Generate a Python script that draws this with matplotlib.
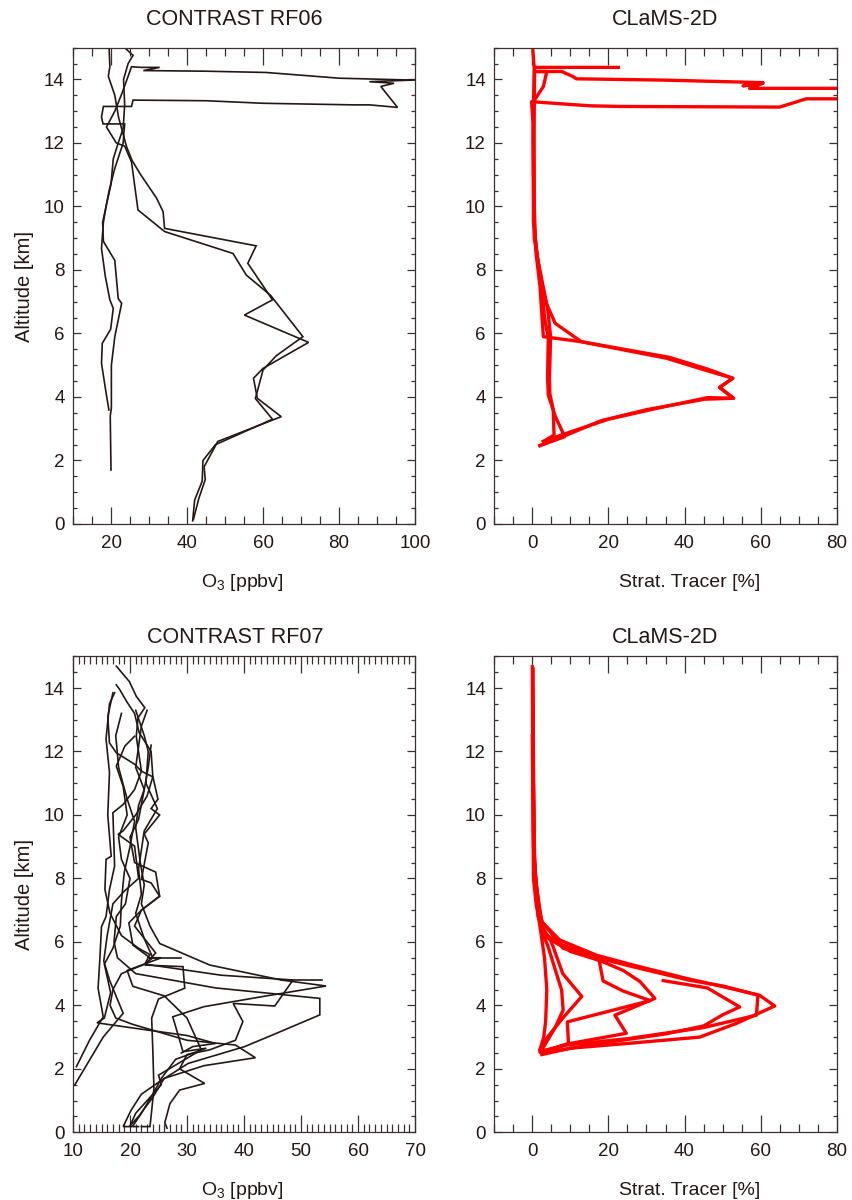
import matplotlib
matplotlib.use("Agg")
import matplotlib.pyplot as plt
from matplotlib.ticker import MultipleLocator

plt.rcParams['font.family'] = ['Liberation Sans', 'DejaVu Sans']
plt.rcParams['mathtext.fontset'] = 'custom'
plt.rcParams['mathtext.rm'] = 'Liberation Sans'
plt.rcParams['mathtext.it'] = 'Liberation Sans:italic'

# ---------------- DATA ----------------
# CONTRAST RF06 ozone profiles (O3 ppbv, altitude km)
rf06_a_o3 = [41.5, 42.0, 44.0, 44.2, 47.5, 62.5, 58.0, 60.0, 63.5, 70.5, 62.0, 55.6, 52.1, 34.1, 27.1, 25.4, 23.6, 21.4, 18.8, 21.0, 23.0, 25.4, 28.0, 32.8, 28.5, 45.0, 60.8, 80.0, 99.3, 101.0]
rf06_a_alt = [0.10, 0.75, 1.35, 2.00, 2.50, 3.30, 3.95, 4.85, 5.30, 5.90, 7.20, 7.84, 8.52, 9.21, 9.89, 11.40, 11.90, 12.00, 12.50, 13.00, 13.60, 14.40, 14.38, 14.38, 14.28, 14.26, 14.22, 14.04, 13.98, 13.98]
rf06_b_o3 = [99.3, 88.0, 94.5, 91.0, 95.4, 88.0, 83.6, 60.0, 45.0, 25.8, 25.4, 18.0, 17.5, 17.9, 23.6, 23.2, 21.0, 19.5, 18.7, 18.0, 17.5, 18.5, 19.7, 20.6, 19.9, 17.7, 17.5, 18.8, 19.45]
rf06_b_alt = [13.98, 13.93, 13.88, 13.78, 13.12, 13.20, 13.20, 13.25, 13.33, 13.35, 13.15, 13.15, 12.82, 12.60, 12.60, 12.00, 11.20, 10.50, 10.00, 9.50, 8.68, 7.80, 7.06, 6.79, 6.13, 5.69, 5.06, 4.06, 3.59]
rf06_c_o3 = [20.0, 19.8, 20.1, 20.1, 21.0, 22.8, 21.9, 21.0, 18.0, 17.8, 18.7, 20.0, 20.6, 21.9, 23.2, 23.6, 23.3, 24.5, 25.8, 23.6]
rf06_c_alt = [1.70, 3.40, 3.65, 5.00, 5.90, 6.95, 7.10, 8.30, 8.90, 9.50, 10.00, 10.70, 11.50, 12.00, 12.46, 13.20, 14.00, 14.50, 14.76, 15.00]
rf06_d_o3 = [19.5, 19.7, 19.3, 21.0, 22.0, 24.1, 25.5, 27.6, 32.0, 33.7, 34.1, 58.2, 56.0, 62.5, 55.1, 72.0, 60.0, 57.5, 58.5, 64.8, 48.1, 44.5, 44.8, 43.1, 41.7]
rf06_d_alt = [15.00, 14.40, 14.10, 13.50, 12.80, 11.88, 11.46, 11.04, 10.26, 9.84, 9.31, 8.76, 8.21, 7.06, 6.58, 5.72, 4.90, 4.59, 3.96, 3.38, 2.60, 1.80, 1.40, 0.80, 0.15]

# CLaMS-2D stratospheric tracer for RF06 (%, km)
cl06_a_tr = [2.0, 10.0, 18.0, 30.0, 45.3, 52.9, 49.2, 52.7, 45.3, 35.3, 12.9, 6.0, 3.5, 2.5, 1.5, 0.8, 0.5, 0.4, 0.3, 2.9, 3.8, 1.1, 7.7, 10.7, 11.6, 34.4, 60.6, 55.4, 60.6, 57.1, 82.0]
cl06_a_alt = [2.47, 2.85, 3.25, 3.60, 3.93, 3.96, 4.30, 4.59, 4.85, 5.22, 5.74, 6.32, 7.00, 7.60, 8.20, 9.00, 10.00, 12.50, 13.30, 13.78, 14.25, 14.25, 14.25, 14.09, 14.02, 13.98, 13.90, 13.80, 13.88, 13.72, 13.72]
cl06_b_tr = [2.9, 10.0, 20.0, 33.0, 46.0, 52.9, 49.2, 52.7, 46.0, 36.0, 12.9, 2.9, 2.5, 2.0, 1.0, 0.5, 0.3, 0.2, -0.2, 15.1, 23.0, 65.0, 72.0, 82.0]
cl06_b_alt = [2.60, 2.90, 3.30, 3.65, 3.98, 3.96, 4.30, 4.59, 4.88, 5.25, 5.74, 5.90, 6.60, 7.50, 8.50, 9.50, 11.00, 12.60, 13.30, 13.17, 13.15, 13.13, 13.39, 13.39]
cl06_c_tr = [2.0, 8.5, 6.0, 4.2, 4.0, 4.2, 3.2, 2.5, 1.2, 0.3, 0.2, 0.3, 0.5, 0.1]
cl06_c_alt = [2.47, 2.75, 3.40, 4.06, 4.60, 5.85, 6.50, 7.50, 8.50, 9.50, 12.00, 13.15, 14.35, 15.00]
cl06_d_tr = [2.9, 5.7, 5.5, 4.6, 4.5, 4.8, 4.0, 2.8, 1.5, 0.5, 0.4, 0.6, 22.6]
cl06_d_alt = [2.60, 2.80, 3.60, 4.10, 4.60, 5.90, 6.80, 7.50, 8.30, 9.00, 12.00, 14.38, 14.38]

# CONTRAST RF07 ozone profiles (O3 ppbv, altitude km)
rf07_1_o3 = [17.6, 19.9, 21.1, 22.6, 21.4, 21.1, 22.0, 20.8, 18.8, 17.0, 17.3, 16.4, 15.8, 15.0, 14.7, 14.4, 15.3, 12.9, 10.6]
rf07_1_alt = [14.69, 14.20, 13.74, 13.38, 13.06, 12.48, 11.38, 10.80, 10.33, 10.07, 8.39, 7.65, 6.80, 6.48, 5.43, 4.54, 3.64, 2.90, 2.07]
rf07_2_o3 = [17.6, 18.2, 19.5, 20.8, 21.6, 23.7, 24.0, 24.9, 23.7, 25.2, 22.5, 23.2, 22.0, 23.7, 25.2, 22.0, 20.8, 24.5, 22.6, 29.3, 29.6, 25.0, 23.8, 24.0, 24.2, 23.7, 23.5, 22.0]
rf07_2_alt = [14.10, 13.95, 13.55, 13.20, 12.60, 12.00, 11.22, 10.50, 10.20, 10.00, 9.40, 9.12, 7.97, 7.86, 7.44, 7.00, 6.50, 5.65, 5.27, 5.22, 4.54, 4.20, 3.60, 2.60, 1.39, 0.50, 0.18, 0.18]
rf07_3_o3 = [17.0, 16.1, 16.4, 17.6, 20.8, 22.0, 24.0, 23.0, 21.0, 18.8, 17.9, 20.8, 21.5, 19.0, 17.0, 16.0, 15.4, 16.4, 18.8, 15.3, 10.3]
rf07_3_alt = [13.85, 13.10, 12.27, 11.96, 11.60, 11.38, 11.20, 10.60, 10.00, 9.50, 9.39, 9.02, 8.00, 7.60, 7.20, 6.20, 5.40, 4.80, 3.75, 3.00, 1.49]
rf07_4_o3 = [17.3, 16.4, 15.8, 16.4, 16.1, 16.7, 15.8, 15.6, 16.5, 18.5, 21.5, 23.5, 22.6, 18.5, 17.0, 16.5, 17.5, 20.5, 30.0, 38.5, 42.0, 33.0, 26.0, 24.0, 21.5, 20.0]
rf07_4_alt = [13.85, 13.50, 12.40, 11.33, 10.00, 8.70, 8.60, 7.65, 6.90, 6.20, 5.80, 5.60, 5.30, 5.00, 4.50, 4.00, 3.60, 3.40, 2.90, 2.75, 2.35, 2.10, 1.70, 1.10, 0.50, 0.20]
rf07_5_o3 = [20.8, 19.1, 17.6, 18.8, 19.5, 18.0, 18.5, 20.0, 19.2, 17.6, 17.2, 17.8, 21.0, 35.0, 53.3, 53.3, 45.7, 40.1, 30.2, 25.2, 22.0, 20.2, 18.8, 21.5]
rf07_5_alt = [12.48, 12.17, 11.54, 10.90, 10.00, 9.30, 8.60, 8.00, 7.20, 6.80, 6.00, 5.50, 5.00, 4.55, 4.22, 3.70, 3.12, 2.70, 2.17, 1.60, 1.20, 0.70, 0.18, 0.18]
rf07_6_o3 = [23.7, 23.2, 22.5, 21.5, 21.0, 21.8, 22.5, 22.0, 23.5, 25.2, 34.0, 46.5, 54.4, 44.0, 33.0, 27.5, 29.3, 33.4, 28.0, 25.5, 24.0, 22.0, 20.5]
rf07_6_alt = [12.20, 11.50, 10.80, 10.30, 9.60, 8.50, 7.80, 7.20, 6.50, 5.95, 5.27, 4.80, 4.61, 4.30, 3.96, 3.64, 2.54, 2.65, 2.30, 1.70, 1.20, 0.60, 0.20]
rf07_7_o3 = [21.0, 22.5, 23.2, 22.8, 24.8, 22.5, 21.5, 22.0, 21.0, 22.5, 24.0, 22.6, 36.0, 48.6, 45.4, 38.1, 39.8, 38.5, 34.0, 30.0, 28.7, 33.1, 28.7, 27.0, 26.1, 26.5]
rf07_7_alt = [13.30, 12.50, 12.00, 11.00, 10.20, 9.50, 8.30, 7.50, 6.90, 6.10, 5.50, 5.30, 4.95, 4.80, 3.98, 4.06, 3.49, 2.90, 2.60, 2.45, 2.00, 1.54, 1.33, 0.90, 0.30, 0.13]
rf07_8_o3 = [23.0, 22.0, 21.0, 22.5, 21.5, 20.0, 20.8, 24.5, 25.2, 22.0, 19.8, 20.5, 23.5, 25.5, 19.5, 20.5, 26.0, 30.0, 31.5, 32.5, 25.0, 25.5, 23.0, 21.0, 20.0]
rf07_8_alt = [13.30, 12.80, 11.50, 10.80, 9.86, 9.30, 8.50, 8.20, 7.44, 7.00, 6.60, 5.90, 5.50, 5.50, 5.10, 4.60, 4.30, 3.60, 3.00, 2.60, 1.80, 1.50, 1.00, 0.60, 0.20]
rf07_9_o3 = [18.5, 17.5, 18.0, 19.5, 20.8, 20.0, 19.0, 18.5, 18.3, 17.0, 15.5, 16.6, 15.5, 14.2, 20.0, 30.0, 35.0, 31.0, 29.0]
rf07_9_alt = [13.20, 12.50, 11.50, 10.50, 9.80, 9.00, 8.20, 7.30, 6.50, 5.80, 5.30, 4.40, 3.60, 3.45, 3.30, 3.05, 2.80, 2.70, 2.50]
rf07_10_o3 = [23.2, 29.0]
rf07_10_alt = [5.50, 5.50]
rf07_11_o3 = [46.5, 53.6]
rf07_11_alt = [4.80, 4.80]

# CLaMS-2D stratospheric tracer for RF07 (%, km)
cl07_1_tr = [0.0, 0.1, 0.3, 0.8, 2.0, 7.2, 16.9, 26.5, 40.5, 50.1, 59.7, 63.7, 53.6, 44.0, 25.0, 10.0, 2.5]
cl07_1_alt = [14.67, 12.00, 9.00, 8.00, 6.69, 6.06, 5.58, 5.27, 4.85, 4.59, 4.32, 3.98, 3.43, 3.00, 2.80, 2.65, 2.45]
cl07_2_tr = [0.2, 0.3, 0.6, 1.5, 8.1, 17.0, 27.0, 41.0, 50.5, 59.3, 58.9, 45.0, 25.0, 9.0, 2.0]
cl07_2_alt = [14.60, 11.00, 8.50, 6.80, 5.80, 5.50, 5.20, 4.80, 4.60, 4.32, 3.69, 3.30, 2.95, 2.75, 2.55]
cl07_3_tr = [34.4, 46.0, 54.5, 50.0, 45.0, 35.0, 15.0, 3.0]
cl07_3_alt = [4.78, 4.55, 3.95, 3.70, 3.35, 3.10, 2.75, 2.50]
cl07_4_tr = [0.1, 0.3, 0.7, 2.5, 8.0, 14.0, 17.5, 18.6, 23.9, 31.0, 9.2, 9.5, 3.0]
cl07_4_alt = [14.00, 9.50, 8.20, 6.30, 5.90, 5.65, 5.45, 4.77, 4.45, 4.15, 3.48, 2.80, 2.55]
cl07_5_tr = [0.2, 0.4, 1.0, 3.0, 10.0, 18.0, 23.9, 28.3, 32.2, 21.7, 24.7, 10.0, 3.0]
cl07_5_alt = [13.50, 9.00, 7.80, 6.20, 5.70, 5.40, 5.10, 4.75, 4.22, 3.69, 3.12, 2.80, 2.55]
cl07_6_tr = [0.1, 0.5, 1.5, 3.0, 5.0, 8.0, 13.0, 8.0, 4.0, 2.0]
cl07_6_alt = [13.00, 8.50, 7.20, 6.40, 6.00, 5.00, 4.28, 3.60, 3.00, 2.60]
cl07_7_tr = [0.1, 0.5, 1.2, 2.5, 4.0, 7.7, 8.1, 6.0, 3.0, 2.3]
cl07_7_alt = [13.00, 8.30, 7.20, 6.30, 5.90, 4.48, 3.85, 3.30, 2.70, 2.50]
cl07_8_tr = [0.0, 0.3, 1.0, 2.0, 3.2, 3.8, 3.5, 3.0, 2.0]
cl07_8_alt = [12.50, 8.00, 7.20, 6.50, 5.50, 4.50, 3.50, 3.00, 2.60]

rf06_o3 = [rf06_a_o3, rf06_b_o3, rf06_c_o3, rf06_d_o3]
rf06_alt = [rf06_a_alt, rf06_b_alt, rf06_c_alt, rf06_d_alt]
cl06_tr = [cl06_a_tr, cl06_b_tr, cl06_c_tr, cl06_d_tr]
cl06_alt = [cl06_a_alt, cl06_b_alt, cl06_c_alt, cl06_d_alt]
rf07_o3 = [rf07_1_o3, rf07_2_o3, rf07_3_o3, rf07_4_o3, rf07_5_o3, rf07_6_o3,
           rf07_7_o3, rf07_8_o3, rf07_9_o3, rf07_10_o3, rf07_11_o3]
rf07_alt = [rf07_1_alt, rf07_2_alt, rf07_3_alt, rf07_4_alt, rf07_5_alt, rf07_6_alt,
            rf07_7_alt, rf07_8_alt, rf07_9_alt, rf07_10_alt, rf07_11_alt]
cl07_tr = [cl07_1_tr, cl07_2_tr, cl07_3_tr, cl07_4_tr, cl07_5_tr, cl07_6_tr, cl07_7_tr, cl07_8_tr]
cl07_alt = [cl07_1_alt, cl07_2_alt, cl07_3_alt, cl07_4_alt, cl07_5_alt, cl07_6_alt, cl07_7_alt, cl07_8_alt]

titles = ["CONTRAST RF06", "CLaMS-2D", "CONTRAST RF07", "CLaMS-2D"]

# ---------------- FIGURE ----------------
W, H = 852, 1200
fig = plt.figure(figsize=(W / 100, H / 100), dpi=100)


def rect(x0, y0, x1, y1):
    return [x0 / W, 1 - y1 / H, (x1 - x0) / W, (y1 - y0) / H]


ax_tl = fig.add_axes(rect(73, 47.7, 415, 524))
ax_tr = fig.add_axes(rect(494.3, 47.7, 836.7, 524))
ax_bl = fig.add_axes(rect(73, 656.3, 415, 1132.3))
ax_br = fig.add_axes(rect(494.3, 656.3, 836.7, 1132.3))

DARK = '#231815'
TICKC = '#3a3030'


def style(ax, xlim, xmaj, xmin):
    ax.set_xlim(*xlim)
    ax.set_ylim(0, 15)
    ax.xaxis.set_major_locator(MultipleLocator(xmaj))
    ax.xaxis.set_minor_locator(MultipleLocator(xmin))
    ax.yaxis.set_major_locator(MultipleLocator(2))
    ax.yaxis.set_minor_locator(MultipleLocator(0.5))
    ax.tick_params(which='both', direction='in', top=True, right=True, color=TICKC, width=0.9)
    ax.tick_params(axis='x', which='major', length=12, pad=8, labelsize=13.5, labelcolor=DARK)
    ax.tick_params(axis='x', which='minor', length=5.8)
    ax.tick_params(axis='y', which='major', length=6, pad=6, labelsize=13.5, labelcolor=DARK)
    ax.tick_params(axis='y', which='minor', length=3)
    for s in ax.spines.values():
        s.set_color(TICKC)
        s.set_linewidth(0.9)


style(ax_tl, (10, 100), 20, 5)
style(ax_tr, (-10, 80), 20, 5)
style(ax_bl, (10, 70), 10, 1)
style(ax_br, (-10, 80), 20, 5)

for xs, ys in zip(rf06_o3, rf06_alt):
    ax_tl.plot(xs, ys, color=DARK, lw=1.2, solid_joinstyle='miter')
for xs, ys in zip(cl06_tr, cl06_alt):
    ax_tr.plot(xs, ys, color='#ff0000', lw=2.4)
for xs, ys in zip(rf07_o3, rf07_alt):
    ax_bl.plot(xs, ys, color=DARK, lw=1.2, solid_joinstyle='miter')
for xs, ys in zip(cl07_tr, cl07_alt):
    ax_br.plot(xs, ys, color='#ff0000', lw=2.4)


def ftext(px, py, s, **kw):
    fig.text(px / W, 1 - py / H, s, color=DARK, **kw)


# titles
ftext(234, 25, titles[0], ha='center', va='baseline', fontsize=15.5)
ftext(665, 25, titles[1], ha='center', va='baseline', fontsize=15.5)
ftext(235, 643, titles[2], ha='center', va='baseline', fontsize=15.5)
ftext(665, 643, titles[3], ha='center', va='baseline', fontsize=15.5)

# x labels
ftext(242, 587, r'O$_\mathregular{3}$ [ppbv]', ha='center', va='baseline', fontsize=14)
ftext(690, 587, 'Strat. Tracer [%]', ha='center', va='baseline', fontsize=14)
ftext(242, 1195, r'O$_\mathregular{3}$ [ppbv]', ha='center', va='baseline', fontsize=14)
ftext(690, 1195, 'Strat. Tracer [%]', ha='center', va='baseline', fontsize=14)

# y labels
ftext(24, 286, 'Altitude [km]', ha='center', va='center', rotation=90, fontsize=14.5)
ftext(24, 894, 'Altitude [km]', ha='center', va='center', rotation=90, fontsize=14.5)

fig.savefig('out.png', dpi=100)
